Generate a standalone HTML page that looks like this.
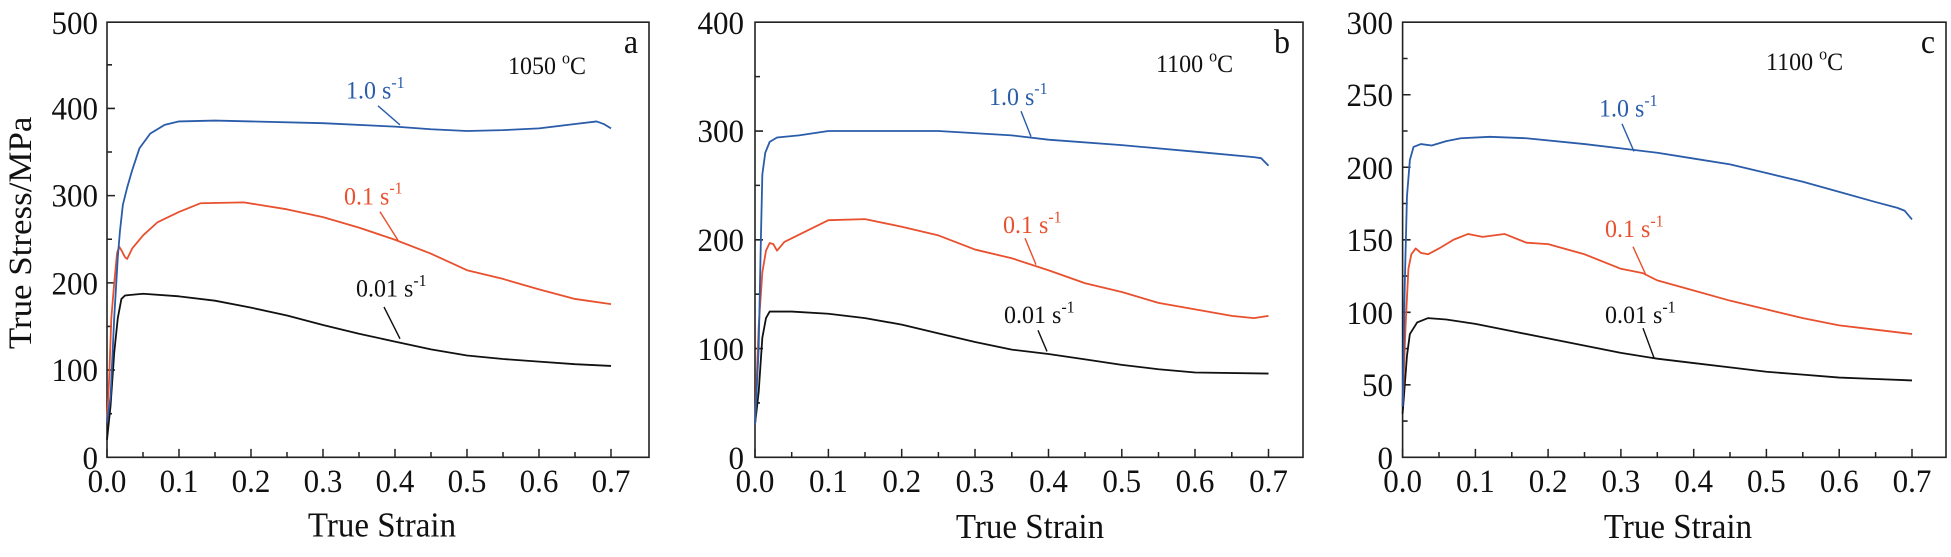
<!DOCTYPE html>
<html><head><meta charset="utf-8"><style>
html,body{margin:0;padding:0;background:#fff;}
svg{display:block;}
text{font-family:"Liberation Serif",serif;fill:#111;}
.tk{font-size:31px;}
.ttl{font-size:33px;}
.ann{font-size:24px;}
.lab{font-size:32px;}
</style></head><body>
<svg width="1951" height="557" viewBox="0 0 1951 557" xmlns="http://www.w3.org/2000/svg">
<defs>
<style>
.c{fill:none;stroke-width:1.8;stroke-linejoin:round;}
.bl{stroke:#2a5caa;} .rd{stroke:#e8502e;} .bk{stroke:#111;}
.ax{fill:none;stroke:#222;stroke-width:1.6;}
.ld{stroke-width:1.4;}
</style>
</defs>
<g transform="scale(1,1.0586)">
<!-- Panel a -->
<rect class="ax" x="107" y="21" width="542" height="411" vector-effect="non-scaling-stroke"/>
<g stroke="#222" stroke-width="1.5">
<path d="M107,432v-8M143,432v-5M179,432v-8M215,432v-5M251,432v-8M287,432v-5M323,432v-8M359,432v-5M395,432v-8M431,432v-5M467,432v-8M503,432v-5M539,432v-8M575,432v-5M611,432v-8"/>
<path d="M107,390.8h5M107,349.6h8M107,308.4h5M107,267.2h8M107,226h5M107,184.8h8M107,143.6h5M107,102.4h8M107,61.2h5"/>
</g>
<g class="tk" text-anchor="middle">
<text x="107" y="465">0.0</text><text x="179" y="465">0.1</text><text x="251" y="465">0.2</text><text x="323" y="465">0.3</text><text x="395" y="465">0.4</text><text x="467" y="465">0.5</text><text x="539" y="465">0.6</text><text x="611" y="465">0.7</text>
</g>
<g class="tk" text-anchor="end">
<text x="98" y="443">0</text><text x="98" y="360">100</text><text x="98" y="278">200</text><text x="98" y="195">300</text><text x="98" y="113">400</text><text x="98" y="32">500</text>
</g>
<text class="ttl" x="382" y="507" text-anchor="middle">True Strain</text>
<text class="ttl" transform="translate(31,220) rotate(-90)" text-anchor="middle">True Stress/MPa</text>
<text class="lab" x="631" y="50" text-anchor="middle">a</text>
<text class="ann" x="508" y="70">1050 <tspan dy="-10" font-size="16">o</tspan><tspan dy="10">C</tspan></text>
<g transform="translate(107,432) scale(0.72,-0.822)">
<polyline class="c bk" vector-effect="non-scaling-stroke" points="0,20 5,60 10,120 15,160 20,182 25,186 50,188 100,185 150,180 200,172 250,163 300,152 350,142 400,133 450,124 500,117 550,113 600,110 650,107 700,105"/>
<polyline class="c rd" vector-effect="non-scaling-stroke" points="0,40 3,90 6,160 10,200 14,235 17,242 20,238 25,230 28,228 35,240 50,255 70,270 100,282 130,292 190,293 250,285 300,276 350,264 400,250 450,234 500,215 550,205 600,193 650,182 700,176"/>
<polyline class="c bl" vector-effect="non-scaling-stroke" points="0,40 5,70 10,160 15,230 18,260 22,290 28,310 35,330 45,355 60,372 80,382 100,386 150,387 200,386 300,384 400,380 450,377 500,375 550,376 600,378 650,383 680,386 690,383 700,378"/>
</g>
<text class="ann" x="346" y="93" style="fill:#2a5caa">1.0 s<tspan dy="-10" font-size="16">-1</tspan></text>
<line class="ld" x1="378" y1="100" x2="400" y2="118" stroke="#2a5caa"/>
<text class="ann" x="344" y="193" style="fill:#e8502e">0.1 s<tspan dy="-10" font-size="16">-1</tspan></text>
<line class="ld" x1="380" y1="200" x2="398" y2="227" stroke="#e8502e"/>
<text class="ann" x="356" y="280">0.01 s<tspan dy="-10" font-size="16">-1</tspan></text>
<line class="ld" x1="384" y1="290" x2="400" y2="320" stroke="#111"/>

<!-- Panel b -->
<rect class="ax" x="755" y="21" width="548" height="411" vector-effect="non-scaling-stroke"/>
<g stroke="#222" stroke-width="1.5">
<path d="M755,432v-8M791.7,432v-5M828.4,432v-8M865,432v-5M901.7,432v-8M938.4,432v-5M975,432v-8M1011.8,432v-5M1048.5,432v-8M1085,432v-5M1121.8,432v-8M1158.5,432v-5M1195,432v-8M1231.8,432v-5M1268.5,432v-8"/>
<path d="M755,380.6h5M755,329.3h8M755,277.9h5M755,226.5h8M755,175.1h5M755,123.8h8M755,72.4h5"/>
</g>
<g class="tk" text-anchor="middle">
<text x="755" y="465">0.0</text><text x="828.4" y="465">0.1</text><text x="901.7" y="465">0.2</text><text x="975" y="465">0.3</text><text x="1048.5" y="465">0.4</text><text x="1121.8" y="465">0.5</text><text x="1195" y="465">0.6</text><text x="1268.5" y="465">0.7</text>
</g>
<g class="tk" text-anchor="end">
<text x="744" y="443">0</text><text x="744" y="340">100</text><text x="744" y="237">200</text><text x="744" y="134">300</text><text x="744" y="32">400</text>
</g>
<text class="ttl" x="1030" y="508" text-anchor="middle">True Strain</text>
<text class="lab" x="1282" y="50" text-anchor="middle">b</text>
<text class="ann" x="1156" y="68">1100 <tspan dy="-10" font-size="16">o</tspan><tspan dy="10">C</tspan></text>
<g transform="translate(755,432) scale(0.7336,-1.0275)">
<polyline class="c bk" vector-effect="non-scaling-stroke" points="0,30 5,60 10,110 15,128 20,134 50,134 100,132 150,128 200,122 250,114 300,106 350,99 400,95 450,90 500,85 550,81 600,78 700,77"/>
<polyline class="c rd" vector-effect="non-scaling-stroke" points="0,30 5,120 10,170 15,190 20,197 25,196 30,190 40,198 70,208 100,218 150,219 200,212 250,204 300,191 350,183 400,172 450,160 500,152 550,142 600,136 650,130 680,128 700,130"/>
<polyline class="c bl" vector-effect="non-scaling-stroke" points="0,30 5,100 8,200 10,260 14,280 20,290 30,294 60,296 100,300 250,300 350,296 400,292 500,287 600,281 680,276 690,275 700,268"/>
</g>
<text class="ann" x="989" y="99" style="fill:#2a5caa">1.0 s<tspan dy="-10" font-size="16">-1</tspan></text>
<line class="ld" x1="1021" y1="105" x2="1031" y2="129" stroke="#2a5caa"/>
<text class="ann" x="1003" y="220" style="fill:#e8502e">0.1 s<tspan dy="-10" font-size="16">-1</tspan></text>
<line class="ld" x1="1025" y1="225" x2="1036" y2="250" stroke="#e8502e"/>
<text class="ann" x="1004" y="305">0.01 s<tspan dy="-10" font-size="16">-1</tspan></text>
<line class="ld" x1="1038" y1="312" x2="1047" y2="332" stroke="#111"/>

<!-- Panel c -->
<rect class="ax" x="1402.6" y="21" width="543.4" height="411" vector-effect="non-scaling-stroke"/>
<g stroke="#222" stroke-width="1.5">
<path d="M1402.6,432v-8M1439,432v-5M1475.4,432v-8M1511.8,432v-5M1548.1,432v-8M1584.5,432v-5M1620.9,432v-8M1657.3,432v-5M1693.7,432v-8M1730,432v-5M1766.4,432v-8M1802.8,432v-5M1839.2,432v-8M1875.6,432v-5M1912,432v-8"/>
<path d="M1402.6,397.75h5M1402.6,363.5h8M1402.6,329.25h5M1402.6,295h8M1402.6,260.75h5M1402.6,226.5h8M1402.6,192.25h5M1402.6,158h8M1402.6,123.75h5M1402.6,89.5h8M1402.6,55.25h5"/>
</g>
<g class="tk" text-anchor="middle">
<text x="1402.6" y="465">0.0</text><text x="1475.4" y="465">0.1</text><text x="1548.1" y="465">0.2</text><text x="1620.9" y="465">0.3</text><text x="1693.7" y="465">0.4</text><text x="1766.4" y="465">0.5</text><text x="1839.2" y="465">0.6</text><text x="1912" y="465">0.7</text>
</g>
<g class="tk" text-anchor="end">
<text x="1393" y="443">0</text><text x="1393" y="374">50</text><text x="1393" y="306">100</text><text x="1393" y="237">150</text><text x="1393" y="169">200</text><text x="1393" y="100">250</text><text x="1393" y="32">300</text>
</g>
<text class="ttl" x="1678" y="508" text-anchor="middle">True Strain</text>
<text class="lab" x="1928" y="50" text-anchor="middle">c</text>
<text class="ann" x="1766" y="66">1100 <tspan dy="-10" font-size="16">o</tspan><tspan dy="10">C</tspan></text>
<g transform="translate(1402.6,432) scale(0.7277,-1.37)">
<polyline class="c bk" vector-effect="non-scaling-stroke" points="0,30 3,50 6,70 10,85 20,93 35,96 60,95 100,92 150,87 200,82 250,77 300,72 350,68 400,65 450,62 500,59 550,57 600,55 650,54 700,53"/>
<polyline class="c rd" vector-effect="non-scaling-stroke" points="0,35 4,90 8,130 12,140 18,144 25,141 35,140 50,144 70,150 90,154 110,152 140,154 170,148 200,147 250,140 300,130 330,127 350,122 400,115 450,108 500,102 550,96 600,91 650,88 700,85"/>
<polyline class="c bl" vector-effect="non-scaling-stroke" points="0,35 3,120 6,180 10,205 15,214 25,216 40,215 60,218 80,220 120,221 170,220 250,216 300,213 350,210 400,206 450,202 500,196 550,190 600,183 650,176 680,172 690,170 700,164"/>
</g>
<text class="ann" x="1599" y="110" style="fill:#2a5caa">1.0 s<tspan dy="-10" font-size="16">-1</tspan></text>
<line class="ld" x1="1622" y1="117" x2="1634" y2="143" stroke="#2a5caa"/>
<text class="ann" x="1605" y="224" style="fill:#e8502e">0.1 s<tspan dy="-10" font-size="16">-1</tspan></text>
<line class="ld" x1="1633" y1="233" x2="1646" y2="260" stroke="#e8502e"/>
<text class="ann" x="1605" y="305">0.01 s<tspan dy="-10" font-size="16">-1</tspan></text>
<line class="ld" x1="1643" y1="310" x2="1654" y2="338" stroke="#111"/>
</g>
</svg>
</body></html>
